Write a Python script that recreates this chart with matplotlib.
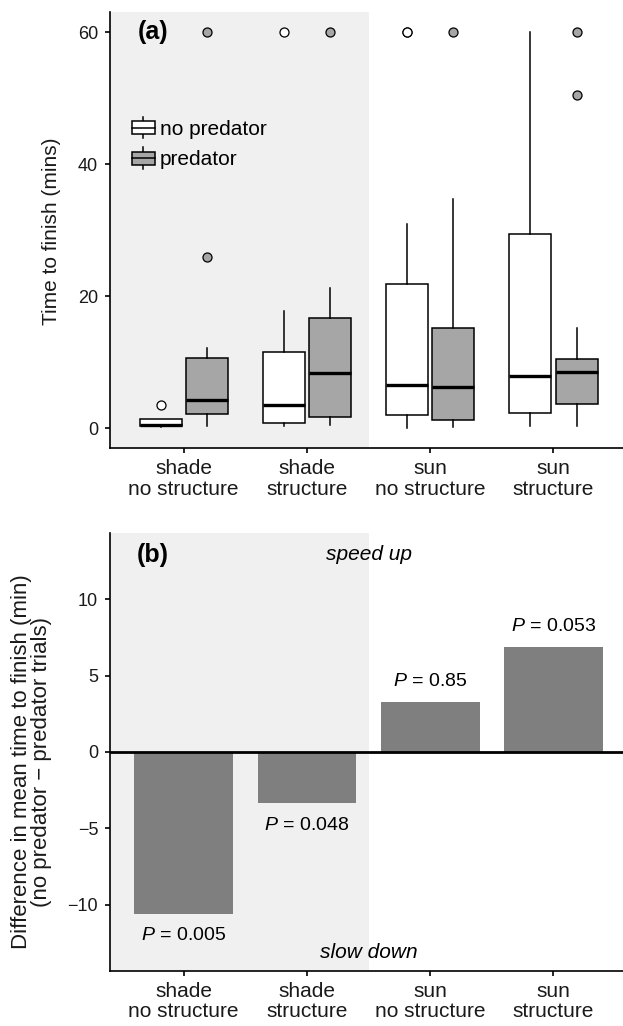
import matplotlib
matplotlib.use("Agg")
import matplotlib.pyplot as plt
from matplotlib.patches import Rectangle
from matplotlib.lines import Line2D
from matplotlib.legend_handler import HandlerBase
import numpy as np

plt.rcParams['font.family'] = ['Liberation Sans', 'DejaVu Sans']
plt.rcParams['mathtext.fontset'] = 'custom'
plt.rcParams['mathtext.it'] = 'Liberation Sans:italic'
plt.rcParams['mathtext.rm'] = 'Liberation Sans'

# ---------------- data ----------------
categories = ["shade\nno structure", "shade\nstructure", "sun\nno structure", "sun\nstructure"]
treatments = ["no predator", "predator"]

# panel (a): box-plot summaries (minutes)
nopred_whislo = [0.25, 0.35, 0.1, 0.45]
nopred_q1 = [0.3, 0.8, 2.06, 2.4]
nopred_med = [0.56, 3.6, 6.6, 7.9]
nopred_q3 = [1.36, 11.6, 21.8, 29.4]
nopred_whishi = [1.4, 17.8, 31.0, 60.0]
nopred_fliers = [[3.5], [60.0], [60.0, 60.0], []]

pred_whislo = [0.35, 0.6, 0.25, 0.3]
pred_q1 = [2.16, 1.7, 1.26, 3.67]
pred_med = [4.32, 8.4, 6.3, 8.5]
pred_q3 = [10.6, 16.7, 15.2, 10.55]
pred_whishi = [12.16, 21.3, 34.8, 15.2]
pred_fliers = [[25.9, 60.0], [60.0], [60.0], [50.5, 60.0]]

# panel (b): difference in mean time to finish
mean_diff = [-10.57, -3.37, 3.24, 6.84]
p_values = ["0.005", "0.048", "0.85", "0.053"]

y_ticks_a = [0, 20, 40, 60]
y_ticks_b = [-10, -5, 0, 5, 10]

# ---------------- style ----------------
SHADE_BG = '#F0F0F0'
PRED_FILL = '#A6A6A6'
BAR_FILL = '#7F7F7F'
W, H = 623, 1026

fig = plt.figure(figsize=(W / 100, H / 100), dpi=100)

def px_axes(left, top, right, bottom):
    return fig.add_axes([left / W, 1 - bottom / H, (right - left) / W, (bottom - top) / H])

ax1 = px_axes(109.7, 12.3, 623, 448.3)
ax2 = px_axes(109.7, 532.9, 623, 971.0)

x = np.arange(1, len(categories) + 1)
XLIM = (0.4, 4.564)

for ax in (ax1, ax2):
    ax.set_xlim(*XLIM)
    ax.axvspan(0.4, 2.5, color=SHADE_BG, zorder=0, lw=0)
    for s in ('top', 'right'):
        ax.spines[s].set_visible(False)
    for s in ('left', 'bottom'):
        ax.spines[s].set_linewidth(1.2)
        ax.spines[s].set_color('black')
    ax.tick_params(axis='both', length=3.3, width=1.2, color='black', labelcolor='#1a1a1a')
    ax.tick_params(axis='y', labelsize=13, pad=5)
    ax.tick_params(axis='x', labelsize=15, pad=4.5)
    ax.set_xticks(x)
    ax.set_xticklabels(categories, linespacing=1.1)
    ax.set_facecolor('white')

# ---------- panel (a) ----------
def stats(whislo, q1, med, q3, whishi, fliers):
    return [dict(whislo=a, q1=b, med=c, q3=d, whishi=e, fliers=f)
            for a, b, c, d, e, f in zip(whislo, q1, med, q3, whishi, fliers)]

common = dict(widths=0.34, patch_artist=True, showcaps=False, manage_ticks=False,
              medianprops=dict(color='black', linewidth=2.4, solid_capstyle='butt'),
              whiskerprops=dict(color='black', linewidth=1.1),
              zorder=2)

ax1.bxp(stats(nopred_whislo, nopred_q1, nopred_med, nopred_q3, nopred_whishi, nopred_fliers),
        positions=x - 0.1875,
        boxprops=dict(facecolor='white', edgecolor='black', linewidth=1.1),
        flierprops=dict(marker='o', markerfacecolor='white', markeredgecolor='black',
                        markersize=6.5, markeredgewidth=0.9),
        **common)
ax1.bxp(stats(pred_whislo, pred_q1, pred_med, pred_q3, pred_whishi, pred_fliers),
        positions=x + 0.1875,
        boxprops=dict(facecolor=PRED_FILL, edgecolor='black', linewidth=1.1),
        flierprops=dict(marker='o', markerfacecolor=PRED_FILL, markeredgecolor='black',
                        markersize=6.5, markeredgewidth=0.9),
        **common)

ax1.set_ylim(-3, 63)
ax1.set_yticks(y_ticks_a)
ax1.set_ylabel("Time to finish (mins)", fontsize=15, va='center', color='#1a1a1a')
ax1.yaxis.set_label_coords((51.6 - 109.7) / (623 - 109.7), (448.3 - 231) / (448.3 - 12.3))
ax1.text(0.75, 60, "(a)", fontsize=18, fontweight='bold', ha='center', va='center')


class BoxKey(HandlerBase):
    def create_artists(self, legend, orig_handle, xdescent, ydescent, width, height, fontsize, trans):
        fc = orig_handle.get_facecolor()
        x0, y0 = -xdescent, -ydescent
        cx = x0 + width / 2
        whisk = Line2D([cx, cx], [y0, y0 + height], color='black', lw=1.1, transform=trans)
        box = Rectangle((x0, y0 + 0.2 * height), width, 0.6 * height, facecolor=fc,
                        edgecolor='black', lw=1.1, transform=trans)
        med = Line2D([x0, x0 + width], [y0 + height / 2] * 2, color='black', lw=1.1, transform=trans)
        return [whisk, box, med]


handles = [Rectangle((0, 0), 1, 1, facecolor='white'), Rectangle((0, 0), 1, 1, facecolor=PRED_FILL)]
ax1.legend(handles, treatments, handler_map={Rectangle: BoxKey()}, loc='upper left',
           bbox_to_anchor=((132 - 109.7) / 513.3, (448.3 - 117) / 436.0), frameon=False,
           borderpad=0, borderaxespad=0, handlelength=1.1, handleheight=1.2,
           handletextpad=0.24, labelspacing=0.42, fontsize=15)

# ---------- panel (b) ----------
ax2.bar(x, mean_diff, width=0.8, color=BAR_FILL, zorder=2)
ax2.axhline(0, color='black', lw=2.0, zorder=3)
ax2.set_ylim(-14.33, 14.33)
ax2.set_yticks(y_ticks_b)
ax2.set_ylabel("Difference in mean time to finish (min)\n(no predator \u2212 predator trials)",
               fontsize=16, va='center', linespacing=0.95, color='#1a1a1a')
ax2.yaxis.set_label_coords((31.4 - 109.7) / 513.3, (971 - 762) / (971 - 532.9))

for xi, v, p in zip(x, mean_diff, p_values):
    off = 1.35 if v > 0 else -1.45
    ax2.text(xi, v + off, r"$\mathit{P}$" + f" = {p}", fontsize=14, ha='center', va='center')

ax2.text(0.75, 12.9, "(b)", fontsize=18, fontweight='bold', ha='center', va='center')
ax2.text(2.5, 12.9, "speed up", fontsize=15, style='italic', ha='center', va='center')
ax2.text(2.5, -13.1, "slow down", fontsize=15, style='italic', ha='center', va='center')

fig.savefig("out.png", dpi=100)
